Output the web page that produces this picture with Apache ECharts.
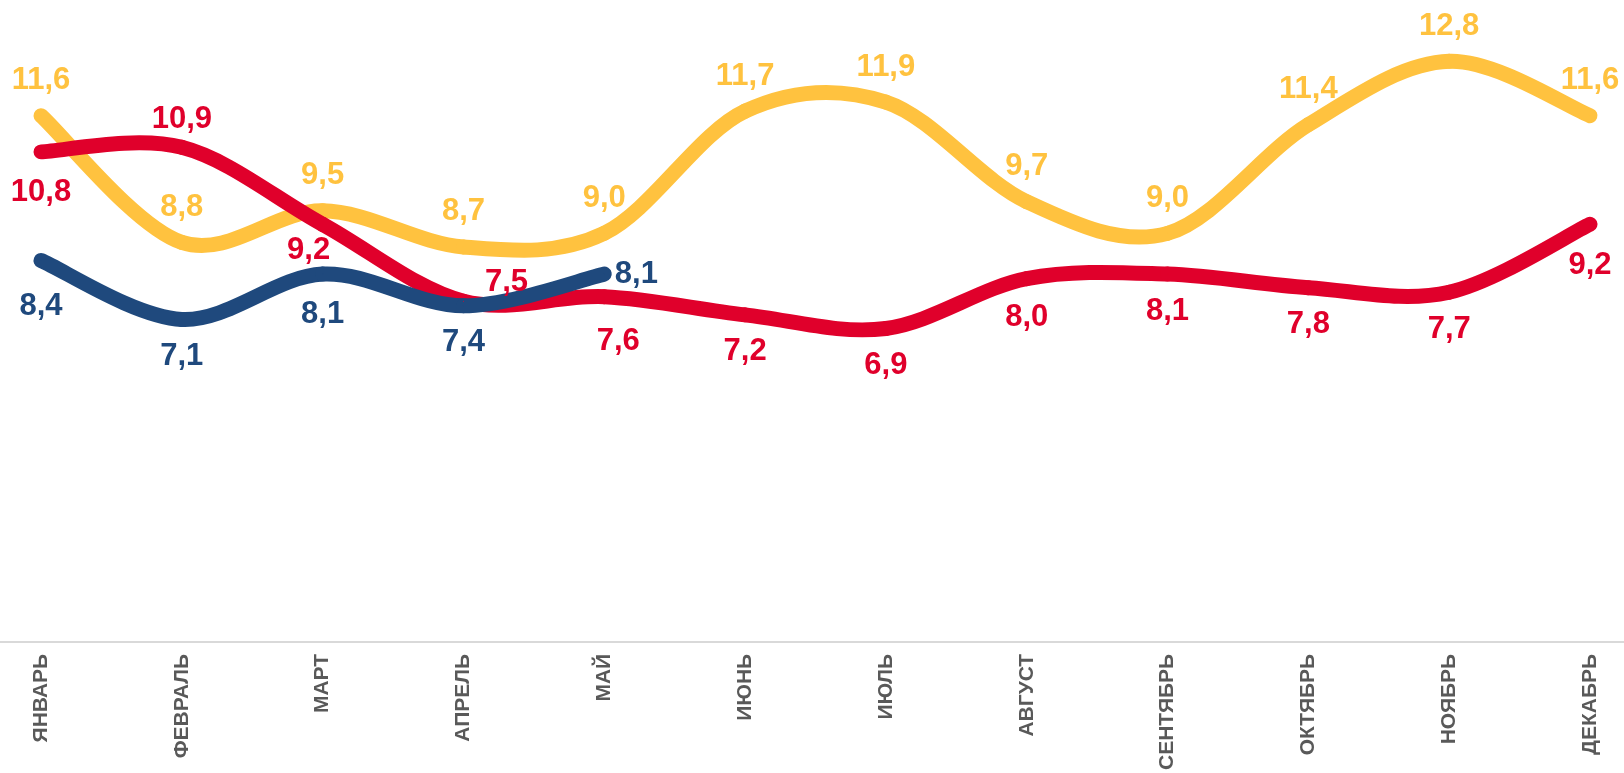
<!DOCTYPE html>
<html>
<head>
<meta charset="utf-8">
<script src="https://cdn.jsdelivr.net/npm/echarts@6/dist/echarts.min.js"></script>
<style>
  html, body { margin: 0; padding: 0; background: #fff; }
  #chart1 { width: 1624px; height: 773px; }
</style>
</head>
<body>
<div id="chart1"></div>
<script>
// месяцы
var months = ['ЯНВАРЬ', 'ФЕВРАЛЬ', 'МАРТ', 'АПРЕЛЬ', 'МАЙ', 'ИЮНЬ',
  'ИЮЛЬ', 'АВГУСТ', 'СЕНТЯБРЬ', 'ОКТЯБРЬ', 'НОЯБРЬ', 'ДЕКАБРЬ'];

var yellowVals = [11.6, 8.8, 9.5, 8.7, 9.0, 11.7, 11.9, 9.7, 9.0, 11.4, 12.8, 11.6];
var redVals = [10.8, 10.9, 9.2, 7.5, 7.6, 7.2, 6.9, 8.0, 8.1, 7.8, 7.7, 9.2];
var blueVals = [8.4, 7.1, 8.1, 7.4, 8.1];

// куда ставить подписи (стиль, не данные)
var redLabelPos = ['bottom', 'top', 'bottom', 'top', 'bottom', 'bottom',
  'bottom', 'bottom', 'bottom', 'bottom', 'bottom', 'bottom'];
var redLabelOffset = { 0: [0, 4], 1: [0, 7], 2: [-14, -11], 3: [43, 16], 4: [14, 8], 7: [0, 2], 11: [0, 4] };
var blueLabelPos = ['bottom', 'bottom', 'bottom', 'bottom', 'right'];
var blueLabelOffset = { 0: [0, 9], 2: [0, 3] };

var YELLOW = '#FFC23F';
var RED = '#E0002B';
var BLUE = '#1F497D';
var FONT = '"Liberation Sans", Arial, sans-serif';
var LINE_W = 15;

function fmt(p) {
  return p.value.toFixed(1).replace('.', ',');
}

function labelStyle(color) {
  return {
    show: true,
    color: color,
    fontFamily: FONT,
    fontWeight: 'bold',
    fontSize: 31,
    distance: 19,
    formatter: fmt
  };
}

function withLabels(vals, pos, offsets) {
  return vals.map(function (v, i) {
    var lab = { position: pos[i] };
    if (pos[i] === 'bottom') lab.distance = 21;
    if (pos[i] === 'right') lab.distance = 10;
    if (offsets && offsets[i]) lab.offset = offsets[i];
    return { value: v, label: lab };
  });
}

// сглаженная кривая как в Excel (Catmull-Rom), рисуем по сегментам
function curveSeries(vals, color) {
  return {
    type: 'custom',
    data: vals,
    silent: true,
    renderItem: function (params, api) {
      var i = params.dataIndex;
      var n = vals.length;
      if (i >= n - 1) return null;
      var p0 = api.coord([Math.max(i - 1, 0), vals[Math.max(i - 1, 0)]]);
      var p1 = api.coord([i, vals[i]]);
      var p2 = api.coord([i + 1, vals[i + 1]]);
      var p3 = api.coord([Math.min(i + 2, n - 1), vals[Math.min(i + 2, n - 1)]]);
      return {
        type: 'bezierCurve',
        shape: {
          x1: p1[0], y1: p1[1],
          x2: p2[0], y2: p2[1],
          cpx1: p1[0] + (p2[0] - p0[0]) / 6,
          cpy1: p1[1] + (p2[1] - p0[1]) / 6,
          cpx2: p2[0] - (p3[0] - p1[0]) / 6,
          cpy2: p2[1] - (p3[1] - p1[1]) / 6
        },
        style: { stroke: color, lineWidth: LINE_W, lineCap: 'round', fill: null }
      };
    }
  };
}

// невидимая линия только для подписей
function labelSeries(data, color, label) {
  return {
    type: 'line',
    data: data,
    symbol: 'circle',
    symbolSize: 1,
    itemStyle: { color: color },
    lineStyle: { opacity: 0 },
    label: label,
    silent: true,
    z: 5
  };
}

var option = {
  animation: false,
  grid: [
    { left: 41, right: 34, top: 7, bottom: 131 },
    // вторая сетка только ради линии оси во всю ширину
    { left: 0, right: 0, top: 7, bottom: 131 }
  ],
  xAxis: [
    {
      type: 'category',
      gridIndex: 0,
      data: months,
      boundaryGap: false,
      axisLine: { show: false },
      axisTick: { show: false },
      axisLabel: {
        rotate: 90,
        margin: 13,
        interval: 0,
        color: '#595959',
        fontFamily: FONT,
        fontWeight: 'bold',
        fontSize: 21
      }
    },
    {
      type: 'category',
      gridIndex: 1,
      data: months,
      axisLine: { lineStyle: { color: '#D9D9D9', width: 2 } },
      axisTick: { show: false },
      axisLabel: { show: false }
    }
  ],
  yAxis: [
    { type: 'value', gridIndex: 0, min: 0, max: 14, show: false, splitLine: { show: false } },
    { type: 'value', gridIndex: 1, min: 0, max: 14, show: false, splitLine: { show: false } }
  ],
  series: [
    curveSeries(yellowVals, YELLOW),
    curveSeries(redVals, RED),
    curveSeries(blueVals, BLUE),
    labelSeries(yellowVals, YELLOW, Object.assign(labelStyle(YELLOW), { position: 'top' })),
    labelSeries(withLabels(redVals, redLabelPos, redLabelOffset), RED, labelStyle(RED)),
    labelSeries(withLabels(blueVals, blueLabelPos, blueLabelOffset), BLUE, labelStyle(BLUE))
  ]
};

var myChart1 = echarts.init(document.getElementById('chart1'));
myChart1.setOption(option);
</script>
</body>
</html>
